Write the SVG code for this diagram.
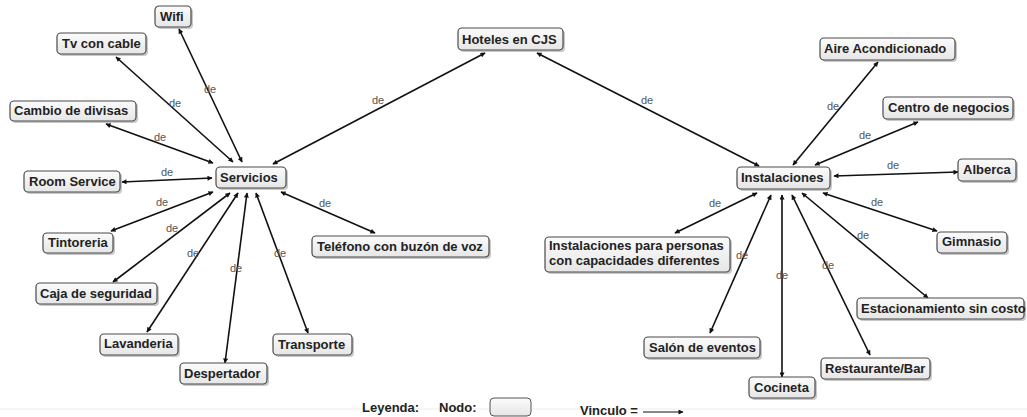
<svg xmlns="http://www.w3.org/2000/svg" width="1027" height="417" viewBox="0 0 1027 417">
<style>
.n rect.b{fill:url(#g);stroke:#4a4a4a;stroke-width:1.2}
.n rect.s{fill:#9a9a9a;opacity:.55}
.n text,.lg{font-family:"Liberation Sans",Arial,sans-serif;font-weight:bold;font-size:13px;fill:#222}
.c line{stroke:#111;stroke-width:1.6;marker-start:url(#a);marker-end:url(#a)}
.c text{font-family:"Liberation Sans",Arial,sans-serif;font-size:11px;fill:#555;text-anchor:middle}
</style>
<defs>
<linearGradient id="g" x1="0" y1="0" x2="0" y2="1"><stop offset="0" stop-color="#fbfbfb"/><stop offset="1" stop-color="#e6e6e6"/></linearGradient>
<marker id="a" viewBox="0 0 10 10" refX="9" refY="5" markerWidth="7" markerHeight="5" markerUnits="userSpaceOnUse" orient="auto-start-reverse"><path d="M0,0L10,5L0,10z" fill="#111"/></marker>
</defs>
<rect width="1027" height="417" fill="#fff"/>
<line x1="0" y1="409" x2="1027" y2="409" stroke="#ececec" stroke-width="1"/>
<g id="connectors" class="c">
<line x1="179" y1="29" x2="242" y2="162"/><text x="210" y="93">de</text>
<line x1="116" y1="57" x2="233" y2="162"/><text x="175" y="107">de</text>
<line x1="106" y1="124" x2="213" y2="163"/><text x="160" y="141">de</text>
<line x1="122" y1="182" x2="212" y2="178"/><text x="167" y="176">de</text>
<line x1="111" y1="231" x2="213" y2="192"/><text x="162" y="206">de</text>
<line x1="113" y1="282" x2="230" y2="193"/><text x="172" y="232">de</text>
<line x1="147" y1="332" x2="238" y2="193"/><text x="193" y="257">de</text>
<line x1="225" y1="363" x2="247" y2="193"/><text x="236" y="272">de</text>
<line x1="308" y1="333" x2="256" y2="193"/><text x="280" y="257">de</text>
<line x1="375" y1="233" x2="281" y2="192"/><text x="325" y="207">de</text>
<line x1="273" y1="164" x2="485" y2="53"/><text x="378" y="104">de</text>
<line x1="759" y1="166" x2="537" y2="53"/><text x="647" y="104">de</text>
<line x1="878" y1="62" x2="793" y2="165"/><text x="833" y="110">de</text>
<line x1="918" y1="122" x2="815" y2="165"/><text x="865" y="139">de</text>
<line x1="958" y1="172" x2="834" y2="176"/><text x="893" y="169">de</text>
<line x1="937" y1="231" x2="823" y2="193"/><text x="877" y="206">de</text>
<line x1="928" y1="298" x2="802" y2="193"/><text x="863" y="239">de</text>
<line x1="870" y1="355" x2="792" y2="195"/><text x="828" y="269">de</text>
<line x1="782" y1="377" x2="782" y2="195"/><text x="782" y="279">de</text>
<line x1="710" y1="333" x2="771" y2="195"/><text x="742" y="259">de</text>
<line x1="675" y1="233" x2="757" y2="193"/><text x="715" y="207">de</text>
</g>
<g id="hoteles" class="n"><rect class="s" x="460" y="30" width="105" height="22" rx="4"/><rect class="b" x="458" y="28" width="105" height="22" rx="4"/><text x="462" y="44">Hoteles en CJS</text></g>
<g id="servicios" class="n"><rect class="s" x="218" y="169" width="70" height="21" rx="4"/><rect class="b" x="216" y="167" width="70" height="21" rx="4"/><text x="220" y="182">Servicios</text></g>
<g id="instalaciones" class="n"><rect class="s" x="739" y="169" width="93" height="22" rx="4"/><rect class="b" x="737" y="167" width="93" height="22" rx="4"/><text x="741" y="182">Instalaciones</text></g>
<g id="wifi" class="n"><rect class="s" x="157" y="8" width="36" height="21" rx="4"/><rect class="b" x="155" y="6" width="36" height="21" rx="4"/><text x="160" y="21">Wifi</text></g>
<g id="tv" class="n"><rect class="s" x="59" y="35" width="89" height="21" rx="4"/><rect class="b" x="57" y="33" width="89" height="21" rx="4"/><text x="62" y="48">Tv con cable</text></g>
<g id="cambio" class="n"><rect class="s" x="12" y="103" width="126" height="20" rx="4"/><rect class="b" x="10" y="101" width="126" height="20" rx="4"/><text x="14" y="115">Cambio de divisas</text></g>
<g id="room" class="n"><rect class="s" x="26" y="173" width="96" height="21" rx="4"/><rect class="b" x="24" y="171" width="96" height="21" rx="4"/><text x="29" y="186">Room Service</text></g>
<g id="tintoreria" class="n"><rect class="s" x="45" y="235" width="70" height="20" rx="4"/><rect class="b" x="43" y="233" width="70" height="20" rx="4"/><text x="48" y="247">Tintoreria</text></g>
<g id="caja" class="n"><rect class="s" x="38" y="285" width="121" height="21" rx="4"/><rect class="b" x="36" y="283" width="121" height="21" rx="4"/><text x="40" y="298">Caja de seguridad</text></g>
<g id="lavanderia" class="n"><rect class="s" x="102" y="336" width="78" height="21" rx="4"/><rect class="b" x="100" y="334" width="78" height="21" rx="4"/><text x="104" y="348">Lavanderia</text></g>
<g id="despertador" class="n"><rect class="s" x="182" y="365" width="87" height="21" rx="4"/><rect class="b" x="180" y="363" width="87" height="21" rx="4"/><text x="184" y="378">Despertador</text></g>
<g id="transporte" class="n"><rect class="s" x="275" y="336" width="79" height="21" rx="4"/><rect class="b" x="273" y="334" width="79" height="21" rx="4"/><text x="278" y="349">Transporte</text></g>
<g id="telefono" class="n"><rect class="s" x="314" y="238" width="177" height="21" rx="4"/><rect class="b" x="312" y="236" width="177" height="21" rx="4"/><text x="317" y="251">Teléfono con buzón de voz</text></g>
<g id="aire" class="n"><rect class="s" x="822" y="40" width="135" height="22" rx="4"/><rect class="b" x="820" y="38" width="135" height="22" rx="4"/><text x="824" y="53">Aire Acondicionado</text></g>
<g id="centro" class="n"><rect class="s" x="885" y="99" width="130" height="22" rx="4"/><rect class="b" x="883" y="97" width="130" height="22" rx="4"/><text x="888" y="112">Centro de negocios</text></g>
<g id="alberca" class="n"><rect class="s" x="960" y="161" width="58" height="22" rx="4"/><rect class="b" x="958" y="159" width="58" height="22" rx="4"/><text x="963" y="174">Alberca</text></g>
<g id="gimnasio" class="n"><rect class="s" x="939" y="234" width="70" height="21" rx="4"/><rect class="b" x="937" y="232" width="70" height="21" rx="4"/><text x="942" y="246">Gimnasio</text></g>
<g id="estacionamiento" class="n"><rect class="s" x="859" y="300" width="167" height="21" rx="4"/><rect class="b" x="857" y="298" width="167" height="21" rx="4"/><text x="861" y="313">Estacionamiento sin costo</text></g>
<g id="restaurante" class="n"><rect class="s" x="823" y="360" width="109" height="21" rx="4"/><rect class="b" x="821" y="358" width="109" height="21" rx="4"/><text x="825" y="373">Restaurante/Bar</text></g>
<g id="cocineta" class="n"><rect class="s" x="751" y="379" width="66" height="21" rx="4"/><rect class="b" x="749" y="377" width="66" height="21" rx="4"/><text x="754" y="392">Cocineta</text></g>
<g id="salon" class="n"><rect class="s" x="646" y="339" width="116" height="21" rx="4"/><rect class="b" x="644" y="337" width="116" height="21" rx="4"/><text x="649" y="352">Salón de eventos</text></g>
<g id="personas" class="n"><rect class="s" x="547" y="239" width="185" height="35" rx="4"/><rect class="b" x="545" y="237" width="185" height="35" rx="4"/><text x="549" y="250">Instalaciones para personas</text><text x="549" y="265">con capacidades diferentes</text></g>
<g id="legend">
<text class="lg" x="362" y="412" font-size="12">Leyenda:</text>
<text class="lg" x="439" y="412" font-size="12">Nodo:</text>
<rect x="490" y="398" width="41" height="18" rx="4" fill="url(#g)" stroke="#555" stroke-width="1"/>
<text class="lg" x="580" y="415" font-size="12">Vinculo =</text>
<line x1="643" y1="412" x2="683" y2="412" stroke="#111" stroke-width="1" marker-end="url(#a)"/>
</g>
</svg>
